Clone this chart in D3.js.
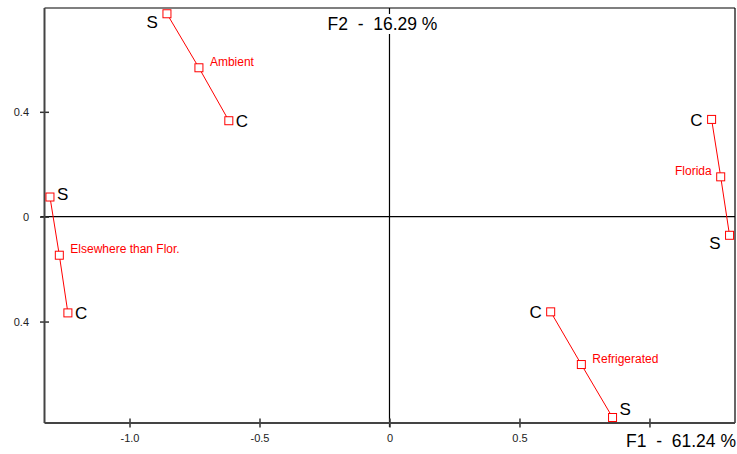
<!DOCTYPE html>
<html>
<head>
<meta charset="utf-8">
<script src="https://cdn.jsdelivr.net/npm/d3@7"></script>
<style>
  body { margin: 0; background: #fff; }
  text { font-family: "Liberation Sans", Arial, sans-serif; white-space: pre; }
</style>
</head>
<body>
<div id="chart"></div>
<script>
// factor groups: [S end, group centre, C end]
var groups = ['Ambient', 'Elsewhere than Flor.', 'Refrigerated', 'Florida']
var f1Values = [
    [-0.856, -0.733, -0.618],
    [-1.306, -1.270, -1.237],
    [0.858, 0.738, 0.620],
    [1.308, 1.274, 1.239]
]
var f2Values = [
    [0.774, 0.568, 0.366],
    [0.075, -0.147, -0.367],
    [-0.766, -0.564, -0.363],
    [-0.071, 0.152, 0.371]
]
var endNames = ['S', 'C']

var xTicks = [-1.0, -0.5, 0, 0.5, 1.0]
var xTickLabels = ['-1.0', '-0.5', '0', '0.5', '']
var yTicks = [0.4, 0, -0.4]
var yTickLabels = ['0.4', '0', '0.4']

var xTitle = 'F1  -  61.24 %'
var yTitle = 'F2  -  16.29 %'

var width = 737
var height = 454
var margin = { top: 8, right: 2, bottom: 31, left: 44.5 }

var svg = d3.select('#chart').append('svg').attr('width', width).attr('height', height)

var xScale = d3.scaleLinear().domain([-1.327, 1.329]).range([margin.left, width - margin.right])
var yScale = d3.scaleLinear().domain([-0.787, 0.796]).range([height - margin.bottom, margin.top])

var x0 = margin.left, x1 = width - margin.right
var y0 = margin.top, y1 = height - margin.bottom

// frame
svg.append('line').attr('x1', x0).attr('x2', x1).attr('y1', y0).attr('y2', y0).attr('stroke', '#000').attr('stroke-width', 1.2)
svg.append('line').attr('x1', x1).attr('x2', x1).attr('y1', y0).attr('y2', y1).attr('stroke', '#000').attr('stroke-width', 1.2)

// zero lines
svg.append('line').attr('x1', x0 - 4).attr('x2', x1).attr('y1', yScale(0)).attr('y2', yScale(0)).attr('stroke', '#000').attr('stroke-width', 1.2)
svg.append('line').attr('x1', xScale(0)).attr('x2', xScale(0)).attr('y1', y0).attr('y2', y1 + 4).attr('stroke', '#000').attr('stroke-width', 1.2)

// axes
var xAxis = d3.axisBottom(xScale).tickValues(xTicks).tickSize(9).tickPadding(3)
    .tickFormat((d, i) => xTickLabels[i])
var gx = svg.append('g').attr('transform', `translate(0,${y1 - 4.5})`).call(xAxis)
gx.select('.domain').remove()
gx.selectAll('line').attr('stroke', '#333').attr('stroke-width', 1.5)
gx.selectAll('text').attr('font-size', 11).attr('fill', '#222').attr('dy', '0.71em').attr('y', 16)
svg.append('line').attr('x1', x0).attr('x2', x1).attr('y1', y1).attr('y2', y1).attr('stroke', '#444').attr('stroke-width', 2)

var yAxis = d3.axisLeft(yScale).tickValues(yTicks).tickSize(9).tickPadding(3)
    .tickFormat((d, i) => yTickLabels[i])
var gy = svg.append('g').attr('transform', `translate(${x0 + 4.5},0)`).call(yAxis)
gy.select('.domain').remove()
gy.selectAll('line').attr('stroke', '#333').attr('stroke-width', 1.5)
gy.selectAll('text').attr('font-size', 11).attr('fill', '#222').attr('x', -20)
svg.append('line').attr('x1', x0).attr('x2', x0).attr('y1', y0).attr('y2', y1).attr('stroke', '#444').attr('stroke-width', 2)

// axis titles
var yt = svg.append('g')
var ytText = yt.append('text').attr('x', xScale(0) - 7).attr('y', 30).attr('text-anchor', 'middle')
    .attr('font-size', 17.5).attr('fill', '#000').text(yTitle)
var bb = ytText.node().getBBox()
yt.insert('rect', 'text').attr('x', bb.x - 2).attr('y', bb.y).attr('width', bb.width + 4).attr('height', bb.height).attr('fill', '#fff')

svg.append('text').attr('x', x1 + 1).attr('y', 447).attr('text-anchor', 'end')
    .attr('font-size', 17.5).attr('fill', '#000').text(xTitle)

// group segments
var line = d3.line().x(d => xScale(d[0])).y(d => yScale(d[1]))

// label placement per group: side of S label, side of C label, group label side
var endSide = [['left', 'right'], ['right', 'right'], ['right', 'left'], ['left', 'left']]
var groupSide = ['right', 'right', 'right', 'left']

groups.forEach(function (name, gi) {
    var pts = f1Values[gi].map((v, j) => [v, f2Values[gi][j]])
    var g = svg.append('g')
    g.append('path').attr('d', line(pts)).attr('fill', 'none').attr('stroke', '#f00').attr('stroke-width', 1)
    g.selectAll('rect').data(pts).join('rect')
        .attr('x', d => xScale(d[0]) - 4).attr('y', d => yScale(d[1]) - 4)
        .attr('width', 8).attr('height', 8)
        .attr('fill', '#fff').attr('stroke', '#f00').attr('stroke-width', 1)

    // S and C
    ;[0, 2].forEach(function (j, k) {
        var px = xScale(pts[j][0]), py = yScale(pts[j][1])
        var side = endSide[gi][k]
        var dy = 0
        if (gi === 0 && k === 0) dy = 8
        if (gi === 3 && k === 1) dy = 1
        if (gi === 3 && k === 0) dy = 8
        if (gi === 2 && k === 0) dy = -8
        if (gi === 1 && k === 0) dy = -3
        g.append('text')
            .attr('x', side === 'left' ? px - 9 : px + 7)
            .attr('y', py + 6 + dy)
            .attr('text-anchor', side === 'left' ? 'end' : 'start')
            .attr('font-size', 17).attr('fill', '#000').text(endNames[k])
    })

    var mx = xScale(pts[1][0]), my = yScale(pts[1][1])
    g.append('text')
        .attr('x', groupSide[gi] === 'left' ? mx - 9 : mx + 11)
        .attr('y', my - 2)
        .attr('text-anchor', groupSide[gi] === 'left' ? 'end' : 'start')
        .attr('font-size', 12).attr('fill', '#f00').text(name)
})
</script>
</body>
</html>
